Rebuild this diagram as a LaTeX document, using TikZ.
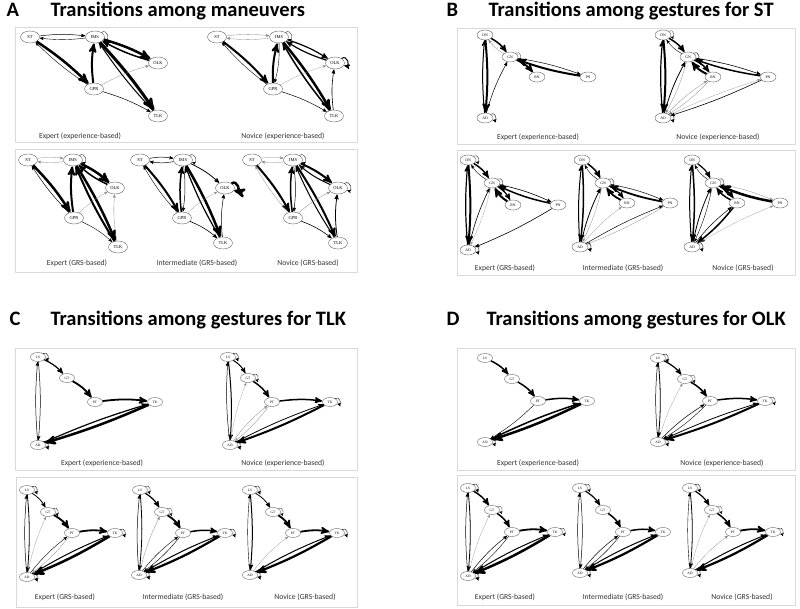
\documentclass[tikz,border=0pt]{standalone}
\usepackage{fontspec}
\setmainfont{Liberation Serif}
\newfontfamily\calfont{Carlito}
\usetikzlibrary{arrows,shapes.geometric}
\tikzset{
    %Define standard arrow tip
    >=stealth',
    %Define style for states
    stateA/.style={
           ellipse,
           draw=black!60, thin,
           fill=white,
           inner sep=0pt,
           minimum width=19pt,
           minimum height=12pt,
           font=\fontsize{4.5}{5}\selectfont},
    stateB/.style={
           stateA,
           minimum width=16pt,
           minimum height=10pt,
           font=\fontsize{3.8}{4}\selectfont},
    stateC/.style={
           stateA,
           minimum width=15pt,
           minimum height=9pt,
           font=\fontsize{3.5}{4}\selectfont},
    % Define arrow style
    tr/.style={
           ->,
           shorten >=0.3pt},
    tloop/.style={
           out=35, in=-15,
           looseness=2.5,
           min distance=2.5pt},
    panel/.style={
           draw=black!15, thin},
    caption/.style={
           font=\calfont\fontsize{7.7}{9}\selectfont,
           text=black!80},
    heading/.style={
           anchor=base west,
           font=\calfont\bfseries\fontsize{20.5}{24}\selectfont}
}
\newcommand{\states}[3]{%
  \foreach \n/\x/\y in {#3}{\node[#2] (#1-\n) at (\x,\y) {\n};}}
% pairs of opposite transitions stay about 4pt apart
\newcommand{\transitions}[2]{%
  \foreach \s/\t/\w in {#2}{%
    \pgfpointdiff{\pgfpointanchor{#1-\s}{center}}{\pgfpointanchor{#1-\t}{center}}%
    \pgfgetlastxy{\dx}{\dy}%
    \pgfmathsetmacro{\bnd}{min(20,420/veclen(\dx,\dy))}%
    \pgfmathtruncatemacro{\g}{ifthenelse(\w<0.35,45,100)}%
    \draw[tr, line width=\w pt, draw=black!\g] (#1-\s) to[bend left=\bnd] (#1-\t);}}
\newcommand{\selfloops}[2]{%
  \foreach \s/\w in {#2}{\draw[tr, line width=\w pt] (#1-\s) to[tloop] (#1-\s);}}

\begin{document}
\begin{tikzpicture}[x=1pt, y=-1pt]
\fill[white] (0,0) rectangle (800,609);
\useasboundingbox (0,0) rectangle (800,609);

% headings
\node[heading] (hA) at (3,17) {A};
\node[heading] (tA) at (47,17) {Transitions among maneuvers};
\node[heading] (hB) at (443,17) {B};
\node[heading] (tB) at (485,17) {Transitions among gestures for ST};
\node[heading] (hC) at (6,326) {C};
\node[heading] (tC) at (47,326) {Transitions among gestures for TLK};
\node[heading] (hD) at (443,326) {D};
\node[heading] (tD) at (483,326) {Transitions among gestures for OLK};

% panel frames
\draw[panel] (15,27) rectangle (357,142);
\draw[panel] (15,149) rectangle (357,272);
\draw[panel] (457,28) rectangle (795,144);
\draw[panel] (457,150) rectangle (795,275);
\draw[panel] (15,348) rectangle (357,470);
\draw[panel] (16,477) rectangle (357,607);
\draw[panel] (457,348) rectangle (795,470);
\draw[panel] (457,475) rectangle (795,605);

%%% A: maneuvers
\states{a1}{stateA}{ST/30/37, IMS/95/37, OLK/158/63, GPR/94/89, TLK/158/116}
\transitions{a1}{ST/IMS/0.5, IMS/ST/0.4, ST/GPR/2.5, GPR/ST/0.4, GPR/IMS/2,
  IMS/OLK/2.5, OLK/IMS/1.5, IMS/TLK/3, TLK/IMS/1, GPR/OLK/0.3, GPR/TLK/0.5}
\selfloops{a1}{IMS/0.3}
\node[caption] (ca1) at (80,136) {Expert (experience-based)};

\states{a2}{stateA}{ST/217/37, IMS/279/37, OLK/335/63, GPR/273/89, TLK/334/116}
\transitions{a2}{ST/IMS/0.3, IMS/ST/0.3, ST/GPR/2, GPR/ST/0.4, GPR/IMS/2, IMS/GPR/0.4,
  IMS/OLK/1.2, OLK/IMS/1.2, IMS/TLK/2.5, TLK/IMS/1.5, GPR/OLK/0.2, GPR/TLK/0.5, TLK/OLK/0.6}
\selfloops{a2}{IMS/0.3, OLK/1}
\node[caption] (ca2) at (283,136) {Novice (experience-based)};

\states{a3}{stateA}{ST/28/160, IMS/73/160, OLK/115/188, GPR/74/218, TLK/118/247}
\transitions{a3}{ST/IMS/0.3, IMS/ST/0.3, ST/GPR/2.5, GPR/ST/0.5, GPR/IMS/2,
  IMS/OLK/2.5, OLK/IMS/1.5, IMS/TLK/2.5, TLK/IMS/2, GPR/OLK/0.2, GPR/TLK/0.4, TLK/OLK/0.3}
\selfloops{a3}{IMS/0.3}
\node[caption] (ca3) at (77,263) {Expert (GRS-based)};

\states{a4}{stateA}{ST/140/160, IMS/183/160, OLK/225/188, GPR/182/218, TLK/223/243}
\transitions{a4}{ST/IMS/0.5, IMS/ST/0.5, ST/GPR/2, GPR/ST/0.4, GPR/IMS/1.5, IMS/GPR/0.5,
  IMS/OLK/0.8, IMS/TLK/2.5, TLK/IMS/1.2, GPR/OLK/0.2, GPR/TLK/0.6, TLK/OLK/0.5}
\selfloops{a4}{IMS/0.3, OLK/2.5}
\node[caption] (ca4) at (197,263) {Intermediate (GRS-based)};

\states{a5}{stateA}{ST/252/160, IMS/293/160, OLK/338/188, GPR/293/218, TLK/338/243}
\transitions{a5}{ST/IMS/0.3, IMS/ST/0.3, ST/GPR/2, GPR/ST/0.3, GPR/IMS/1.5, IMS/GPR/0.5,
  IMS/OLK/2, OLK/IMS/1, IMS/TLK/2, TLK/IMS/1, GPR/OLK/0.3, GPR/TLK/0.6, TLK/OLK/0.8}
\selfloops{a5}{IMS/0.3, OLK/0.4}
\node[caption] (ca5) at (308,263) {Novice (GRS-based)};

%%% B: gestures for ST
\states{b1}{stateB}{DN/485/35, GN/510/57, RN/537/77, PN/588/77, AD/485/118}
\transitions{b1}{DN/AD/2, AD/DN/1, DN/GN/1.5, GN/DN/0.3, GN/RN/1.8,
  GN/PN/0.5, PN/GN/2, AD/GN/0.5}
\selfloops{b1}{GN/0.2, AD/0.4}
\node[caption] (cb1) at (538,137) {Expert (experience-based)};

\states{b2}{stateB}{DN/663/35, GN/688/57, RN/713/77, PN/768/77, AD/663/118}
\transitions{b2}{DN/AD/2, AD/DN/1.2, DN/GN/1.5, GN/DN/0.4, GN/RN/1.5, RN/GN/2,
  GN/PN/0.6, PN/GN/1.5, AD/GN/0.8, GN/AD/0.3, RN/AD/0.3, AD/RN/0.3, PN/AD/0.6, AD/PN/0.2}
\selfloops{b2}{DN/0.2, GN/0.4, AD/0.4}
\node[caption] (cb2) at (718,137) {Novice (experience-based)};

\states{b3}{stateB}{DN/468/160, GN/492/183, RN/513/205, PN/558/205, AD/468/250}
\transitions{b3}{DN/AD/2, AD/DN/1.2, DN/GN/1.5, GN/DN/0.4, GN/RN/1.2, RN/GN/2,
  GN/PN/0.6, PN/GN/1.5, AD/GN/0.6, GN/AD/0.2, PN/AD/0.6}
\selfloops{b3}{DN/0.3, GN/0.3, AD/0.4}
\node[caption] (cb3) at (505,268) {Expert (GRS-based)};

\states{b4}{stateB}{DN/582/160, GN/603/183, RN/627/203, PN/670/203, AD/580/247}
\transitions{b4}{DN/AD/1.5, AD/DN/1, DN/GN/1.5, GN/DN/0.4, GN/RN/1.2, RN/GN/1.8,
  GN/PN/0.5, PN/GN/1.8, AD/GN/0.8, GN/AD/0.3, AD/RN/0.2, AD/PN/0.5, PN/AD/0.3}
\selfloops{b4}{GN/0.3, AD/0.5}
\node[caption] (cb4) at (623,268) {Intermediate (GRS-based)};

\states{b5}{stateB}{DN/692/160, GN/713/183, RN/737/203, PN/780/203, AD/692/247}
\transitions{b5}{DN/AD/1.5, AD/DN/1, DN/GN/1.2, GN/DN/0.4, GN/RN/1.5, RN/GN/1.5,
  GN/PN/0.3, PN/GN/2.5, AD/GN/0.8, GN/AD/0.4, RN/AD/1.5, AD/RN/0.5, AD/PN/0.2}
\selfloops{b5}{GN/0.3, AD/0.4}
\node[caption] (cb5) at (743,268) {Novice (GRS-based)};

%%% C: gestures for TLK
\states{c1}{stateC}{LS/38/357, GT/67/378, PT/95/402, TK/155/402, AD/38/445}
\transitions{c1}{LS/AD/0.5, AD/LS/0.5, LS/GT/1.2, GT/PT/1.8, PT/TK/1.8,
  TK/AD/2.5, AD/TK/1.2}
\selfloops{c1}{LS/0.4, AD/0.5}
\node[caption] (cc1) at (102,463) {Expert (experience-based)};

\states{c2}{stateC}{LS/228/357, GT/248/378, PT/272/402, TK/330/402, AD/230/445}
\transitions{c2}{LS/AD/1, AD/LS/0.5, LS/GT/1, GT/PT/1.5, PT/TK/1.5,
  TK/AD/2, AD/TK/0.8, AD/GT/0.2, AD/PT/0.3, PT/AD/0.3}
\selfloops{c2}{LS/0.4, GT/0.3, TK/0.4, AD/0.5}
\node[caption] (cc2) at (283,463) {Novice (experience-based)};

\states{c3}{stateC}{LS/27/490, GT/48/512, PT/72/533, TK/115/533, AD/27/577}
\transitions{c3}{LS/AD/0.8, AD/LS/0.5, LS/GT/0.8, GT/PT/1.8, PT/TK/1.8,
  TK/AD/2.5, AD/TK/1, AD/GT/0.2, AD/PT/0.4, PT/AD/0.3}
\selfloops{c3}{LS/0.4, GT/0.3, TK/0.4, AD/0.5}
\node[caption] (cc3) at (65,597) {Expert (GRS-based)};

\states{c4}{stateC}{LS/140/490, GT/162/512, PT/183/533, TK/225/533, AD/139/575}
\transitions{c4}{LS/AD/0.8, AD/LS/0.5, LS/GT/1.2, GT/PT/1.8, PT/TK/1.5,
  TK/AD/2.2, AD/TK/1, AD/GT/0.3, AD/PT/0.4, PT/AD/0.4}
\selfloops{c4}{LS/0.3, GT/0.2, TK/0.4, AD/0.5}
\node[caption] (cc4) at (183,597) {Intermediate (GRS-based)};

\states{c5}{stateC}{LS/250/490, GT/273/512, PT/293/533, TK/337/533, AD/250/575}
\transitions{c5}{LS/AD/1, AD/LS/0.4, LS/GT/0.8, GT/PT/1.8, PT/TK/1.8,
  TK/AD/2.2, AD/TK/1, AD/PT/0.2}
\selfloops{c5}{LS/0.4, GT/0.2, TK/0.4, AD/0.5}
\node[caption] (cc5) at (305,597) {Novice (GRS-based)};

%%% D: gestures for OLK
\states{d1}{stateC}{LS/485/358, GT/512/379, PT/538/401, TK/587/401, AD/485/442}
\transitions{d1}{LS/GT/1.5, GT/PT/1.5, PT/TK/1.5, TK/AD/2.5, AD/TK/1.5, PT/AD/0.4}
\selfloops{d1}{AD/0.4}
\node[caption] (cd1) at (538,463) {Expert (experience-based)};

\states{d2}{stateC}{LS/658/358, GT/685/379, PT/710/401, TK/765/401, AD/658/442}
\transitions{d2}{LS/AD/0.8, AD/LS/0.5, LS/GT/1.2, GT/PT/1.5, PT/TK/1.5,
  TK/AD/2, AD/TK/0.8, AD/GT/0.2, AD/PT/0.5, PT/AD/0.4}
\selfloops{d2}{LS/0.4, GT/0.2, TK/0.3, AD/0.4}
\node[caption] (cd2) at (722,463) {Novice (experience-based)};

\states{d3}{stateC}{LS/468/488, GT/492/510, PT/512/532, TK/555/532, AD/468/576}
\transitions{d3}{LS/AD/0.8, AD/LS/0.5, LS/GT/1.5, GT/PT/1.5, PT/TK/1.8,
  TK/AD/2.5, AD/TK/1, AD/GT/0.2, AD/PT/0.5, PT/AD/0.4}
\selfloops{d3}{LS/0.4, GT/0.2, TK/0.3, AD/0.5}
\node[caption] (cd3) at (505,597) {Expert (GRS-based)};

\states{d4}{stateC}{LS/580/488, GT/603/510, PT/623/532, TK/663/532, AD/580/573}
\transitions{d4}{LS/AD/0.5, AD/LS/0.5, LS/GT/1.2, GT/PT/1.5, PT/TK/1.5,
  TK/AD/2.2, AD/TK/1, AD/PT/0.5, PT/AD/0.4}
\selfloops{d4}{LS/0.3, AD/0.4}
\node[caption] (cd4) at (623,597) {Intermediate (GRS-based)};

\states{d5}{stateC}{LS/690/488, GT/712/510, PT/733/532, TK/773/532, AD/690/573}
\transitions{d5}{LS/AD/0.8, AD/LS/0.4, LS/GT/1.2, GT/PT/1.5, PT/TK/1.8,
  TK/AD/2.2, AD/TK/1, AD/GT/0.2, AD/PT/0.3}
\selfloops{d5}{LS/0.4, GT/0.2, TK/0.3, AD/0.4}
\node[caption] (cd5) at (742,597) {Novice (GRS-based)};
\end{tikzpicture}
\end{document}
